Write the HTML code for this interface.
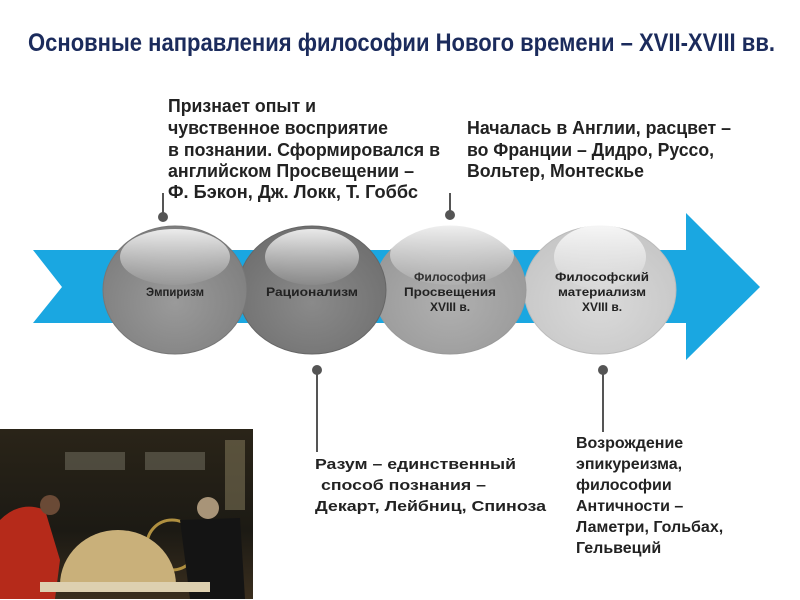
<!DOCTYPE html>
<html><head><meta charset="utf-8"><style>
html,body{margin:0;padding:0;background:#fff;}
body{width:800px;height:600px;overflow:hidden;position:relative;}
svg{position:absolute;left:0;top:0;}
</style></head><body>
<svg width="800" height="600" viewBox="0 0 800 600" xmlns="http://www.w3.org/2000/svg">
<defs>
<radialGradient id="g1" cx="0.5" cy="0.6" r="0.6"><stop offset="0" stop-color="#9a9a9a"/><stop offset="1" stop-color="#7e7e7e"/></radialGradient>
<radialGradient id="g2" cx="0.5" cy="0.6" r="0.6"><stop offset="0" stop-color="#8a8a8a"/><stop offset="1" stop-color="#6f6f6f"/></radialGradient>
<radialGradient id="g3" cx="0.5" cy="0.6" r="0.6"><stop offset="0" stop-color="#b0b0b0"/><stop offset="1" stop-color="#989898"/></radialGradient>
<radialGradient id="g4" cx="0.5" cy="0.6" r="0.6"><stop offset="0" stop-color="#dadada"/><stop offset="1" stop-color="#c6c6c6"/></radialGradient>
<linearGradient id="hl" x1="0" y1="0" x2="0" y2="1"><stop offset="0" stop-color="#fff" stop-opacity="0.85"/><stop offset="1" stop-color="#fff" stop-opacity="0.05"/></linearGradient>
<linearGradient id="pic" x1="0" y1="0" x2="0" y2="1"><stop offset="0" stop-color="#2a2418"/><stop offset="0.6" stop-color="#1c1a14"/><stop offset="1" stop-color="#3a2e1e"/></linearGradient>
</defs>
<text x="28" y="51" textLength="747" lengthAdjust="spacingAndGlyphs" font-family="Liberation Sans, sans-serif" font-weight="bold" font-size="25" fill="#1b2b5c">Основные направления философии Нового времени – XVII-XVIII вв.</text>

<polygon points="33,250 686,250 686,213 760,287 686,360 686,323 33,323 62,287" fill="#1aa7e1"/>

<g stroke="#555" stroke-width="2" fill="#555">
<line x1="163" y1="193" x2="163" y2="216"/><circle cx="163" cy="217" r="4"/>
<line x1="450" y1="193" x2="450" y2="214"/><circle cx="450" cy="215" r="4"/>
<line x1="317" y1="370" x2="317" y2="452"/><circle cx="317" cy="370" r="4"/>
<line x1="603" y1="370" x2="603" y2="432"/><circle cx="603" cy="370" r="4"/>
</g>

<ellipse cx="600" cy="290" rx="76" ry="64" fill="url(#g4)" stroke="#bbb"/>
<ellipse cx="450" cy="290" rx="76" ry="64" fill="url(#g3)" stroke="#999"/>
<ellipse cx="312" cy="290" rx="74" ry="64" fill="url(#g2)" stroke="#666"/>
<ellipse cx="175" cy="290" rx="72" ry="64" fill="url(#g1)" stroke="#777"/>
<ellipse cx="175" cy="257" rx="55" ry="28" fill="url(#hl)"/>
<ellipse cx="312" cy="257" rx="47" ry="28" fill="url(#hl)"/>
<ellipse cx="452" cy="255" rx="62" ry="30" fill="url(#hl)"/>
<ellipse cx="600" cy="257" rx="46" ry="32" fill="url(#hl)"/>
<g font-family="Liberation Sans, sans-serif" font-weight="bold" font-size="12" text-anchor="middle" fill="#222">
<text x="175" y="296" textLength="58" lengthAdjust="spacingAndGlyphs">Эмпиризм</text>
<text x="312" y="296" textLength="92" lengthAdjust="spacingAndGlyphs">Рационализм</text>
<text x="450" y="281" fill="#333" textLength="72" lengthAdjust="spacingAndGlyphs">Философия</text>
<text x="450" y="296" textLength="92" lengthAdjust="spacingAndGlyphs">Просвещения</text>
<text x="450" y="311">XVIII в.</text>
<text x="602" y="281" textLength="94" lengthAdjust="spacingAndGlyphs">Философский</text>
<text x="602" y="296" textLength="88" lengthAdjust="spacingAndGlyphs">материализм</text>
<text x="602" y="311">XVIII в.</text>
</g>

<g font-family="Liberation Sans, sans-serif" font-weight="bold" font-size="18" fill="#222">
<text x="168" y="112" textLength="148" lengthAdjust="spacingAndGlyphs">Признает опыт и</text>
<text x="168" y="134" textLength="220" lengthAdjust="spacingAndGlyphs">чувственное восприятие</text>
<text x="168" y="156" textLength="272" lengthAdjust="spacingAndGlyphs">в познании. Сформировался в</text>
<text x="168" y="177" textLength="246" lengthAdjust="spacingAndGlyphs">английском Просвещении –</text>
<text x="168" y="198" textLength="250" lengthAdjust="spacingAndGlyphs">Ф. Бэкон, Дж. Локк,  Т. Гоббс</text>
<text x="467" y="134" textLength="264" lengthAdjust="spacingAndGlyphs">Началась в Англии, расцвет –</text>
<text x="467" y="156" textLength="247" lengthAdjust="spacingAndGlyphs">во Франции – Дидро, Руссо,</text>
<text x="467" y="177" textLength="177" lengthAdjust="spacingAndGlyphs">Вольтер, Монтескье</text>
</g>
<g font-family="Liberation Sans, sans-serif" font-weight="bold" font-size="15" fill="#222">
<text x="315" y="469" textLength="201" lengthAdjust="spacingAndGlyphs">Разум  – единственный</text>
<text x="321" y="490" textLength="165" lengthAdjust="spacingAndGlyphs">способ познания –</text>
<text x="315" y="511" textLength="231" lengthAdjust="spacingAndGlyphs">Декарт, Лейбниц, Спиноза</text>
</g>
<g font-family="Liberation Sans, sans-serif" font-weight="bold" font-size="16" fill="#222">
<text x="576" y="448">Возрождение</text>
<text x="576" y="469">эпикуреизма,</text>
<text x="576" y="490">философии</text>
<text x="576" y="511">Античности  –</text>
<text x="576" y="532">Ламетри, Гольбах,</text>
<text x="576" y="553">Гельвеций</text>
</g>

<rect x="0" y="429" width="253" height="170" fill="url(#pic)"/>
<rect x="65" y="452" width="60" height="18" fill="#6a6858" opacity="0.6"/>
<rect x="145" y="452" width="60" height="18" fill="#6a6858" opacity="0.6"/>
<rect x="225" y="440" width="20" height="70" fill="#8a8060" opacity="0.5"/>
<path d="M0,520 Q20,500 45,510 L60,560 L55,599 L0,599 Z" fill="#b52a1a"/>
<circle cx="50" cy="505" r="10" fill="#6a4a36"/>
<circle cx="172" cy="545" r="25" fill="none" stroke="#b09040" stroke-width="3"/>
<path d="M180,520 L240,518 L245,599 L190,599 Z" fill="#141414"/>
<circle cx="208" cy="508" r="11" fill="#a89478"/>
<path d="M60,585 A58,55 0 0 1 176,585 Z" fill="#c9b07a"/>
<rect x="40" y="582" width="170" height="10" fill="#ddd0b0"/>
</svg>
</body></html>
